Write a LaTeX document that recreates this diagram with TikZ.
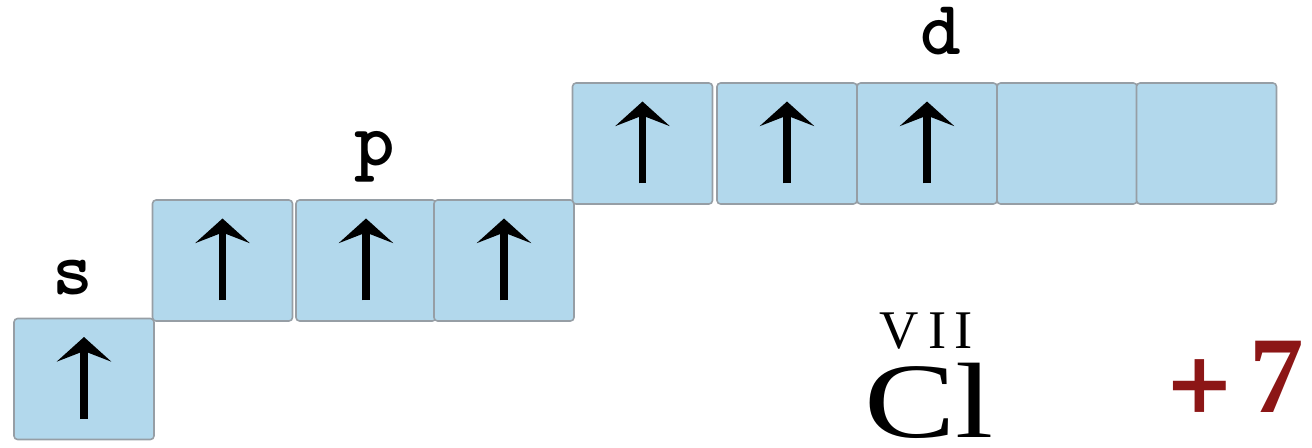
\documentclass[tikz,border=0pt]{standalone}
\usepackage{fontspec}
\setmainfont{Liberation Serif}
\newfontfamily\plusfont{DejaVu Serif}
\usetikzlibrary{arrows.meta}

\definecolor{orbblue}{RGB}{178,216,236}
\definecolor{orbedge}{RGB}{150,158,165}
\definecolor{oxred}{RGB}{140,22,22}

\tikzset{
  orbital/.style={draw=orbedge, fill=orbblue, line width=0.9pt, rounded corners=2pt,
    minimum width=2.8cm, minimum height=2.42cm, inner sep=0pt},
  spin/.style={line width=4.5pt, -{Stealth[length=14pt,width=31pt,inset=6pt]}},
  sublevel/.style={font=\fontsize{44}{48}\selectfont\ttfamily\bfseries, inner sep=0pt,
    text height=0.75cm, anchor=base},
}

\begin{document}
\begin{tikzpicture}[x=0.02cm,y=-0.02cm]
\useasboundingbox (0,0) rectangle (1312,447);
\newcommand\nuoli[1]{
\draw[spin] ([yshift=-0.8cm]#1.center) -- ([yshift=0.84cm]#1.center);
}
% s
\node[orbital] (s1) at (84,379) {};
% p
\node[orbital] (p1) at (222.5,260.5) {};
\node[orbital] (p2) at (366,260.5) {};
\node[orbital] (p3) at (504,260.5) {};
% d
\node[orbital] (d1) at (642.5,143.5) {};
\node[orbital] (d2) at (787,143.5) {};
\node[orbital] (d3) at (927,143.5) {};
\node[orbital] (d4) at (1067,143.5) {};
\node[orbital] (d5) at (1206.5,143.5) {};

\nuoli{s1}
\nuoli{p1}
\nuoli{p2}
\nuoli{p3}
\nuoli{d1}
\nuoli{d2}
\nuoli{d3}

\node[sublevel] (ls) at (73,294) {s};
\node[sublevel] (lp) at (375,165) {p};
\node[sublevel] (ld) at (941,54) {d};

\node[font=\fontsize{31}{32}\selectfont, inner sep=0pt, text depth=0pt, anchor=base] (ryhma) at (926.5,348) {V\hspace{5pt}I\hspace{5pt}I};
\node[font=\fontsize{61}{64}\selectfont, inner sep=0pt, text height=1.45cm, text depth=0pt, anchor=base] (alkuaine) at (929,437) {\scalebox{1.28}[1]{Cl}};
\node[font=\fontsize{62}{70}\selectfont\bfseries, text=oxred, inner sep=0pt, anchor=base west] (hapetus) at (1164,412) {{\plusfont\fontsize{48}{52}\selectfont +}\hspace{8pt}7};
\end{tikzpicture}
\end{document}
